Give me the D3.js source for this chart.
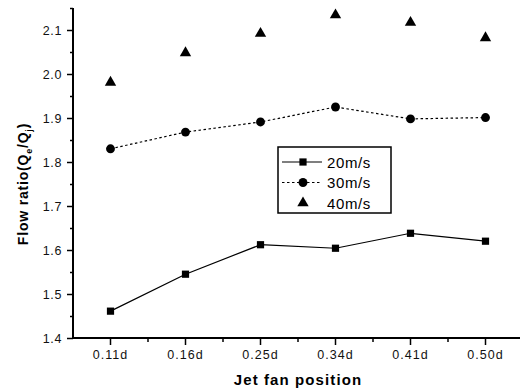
<!DOCTYPE html>
<html>
<head>
<meta charset="utf-8">
<script src="https://cdn.jsdelivr.net/npm/d3@7/dist/d3.min.js"></script>
<style>
  body { margin: 0; background: #fff; }
  svg { display: block; font-family: "Liberation Sans", Arial, sans-serif; }
</style>
</head>
<body>
<svg id="chart" width="520" height="392"></svg>
<script>
// Jet fan positions along the tunnel (fraction of diameter)
const positions = ["0.11d", "0.16d", "0.25d", "0.34d", "0.41d", "0.50d"];
// Flow ratio Qe/Qj for each inlet velocity
const v20 = [1.461, 1.545, 1.612, 1.604, 1.638, 1.620];
const v30 = [1.830, 1.868, 1.891, 1.925, 1.898, 1.901];
const v40 = [1.981, 2.048, 2.092, 2.134, 2.117, 2.082];
const seriesNames = ["20m/s", "30m/s", "40m/s"];
const yMajorTicks = [1.4, 1.5, 1.6, 1.7, 1.8, 1.9, 2.0, 2.1];

const svg = d3.select("#chart");
const plotLeft = 73, plotRight = 523, plotTop = 8, plotBottom = 338;

const x = d3.scaleBand().domain(positions).range([plotLeft, plotRight]).paddingInner(0).paddingOuter(0);
const y = d3.scaleLinear().domain([1.4, 2.15]).range([plotBottom, plotTop]);
const cx = d => x(d) + x.bandwidth() / 2;

// y axis: major ticks every 0.1, minor every 0.05
const yAxis = d3.axisLeft(y).tickValues(yMajorTicks).tickFormat(d3.format(".1f")).tickSize(6).tickPadding(5);
const yMinor = d3.range(1.45, 2.16, 0.1).map(v => +v.toFixed(2));
const gy = svg.append("g").attr("transform", `translate(${plotLeft},0)`).call(yAxis);
gy.select(".domain").attr("d", `M0,${plotBottom}V${plotTop}`).attr("stroke-width", 2);
gy.selectAll(".tick line").attr("stroke-width", 1.5);
gy.selectAll(".tick text").attr("font-size", 12.5).attr("fill", "#111").attr("letter-spacing", 0.6);
svg.append("g").attr("transform", `translate(${plotLeft},0)`)
  .call(d3.axisLeft(y).tickValues(yMinor).tickSize(3).tickFormat(""))
  .call(g => g.select(".domain").remove())
  .selectAll(".tick line").attr("stroke-width", 1.5);

// x axis: major ticks at categories, minor at band edges
const xAxis = d3.axisBottom(x).tickSize(7).tickPadding(5);
const gx = svg.append("g").attr("transform", `translate(0,${plotBottom})`).call(xAxis);
gx.select(".domain").attr("d", `M${plotLeft},0H${plotRight}`).attr("stroke-width", 2);
gx.selectAll(".tick line").attr("stroke-width", 1.5);
gx.selectAll(".tick text").attr("font-size", 12.5).attr("fill", "#111").attr("letter-spacing", 1);
const edges = positions.slice(1).map(p => x(p));
svg.append("g").selectAll("line").data(edges).join("line")
  .attr("x1", d => d).attr("x2", d => d)
  .attr("y1", plotBottom).attr("y2", plotBottom + 4)
  .attr("stroke", "#000").attr("stroke-width", 1.5);

// axis titles
svg.append("text")
  .attr("x", 298).attr("y", 385)
  .attr("text-anchor", "middle")
  .attr("font-size", 15).attr("font-weight", "bold").attr("letter-spacing", 1.1)
  .text("Jet fan position");

const yt = svg.append("text")
  .attr("transform", "translate(28,184) rotate(-90)")
  .attr("text-anchor", "middle")
  .attr("font-size", 14).attr("font-weight", "bold").attr("letter-spacing", 0.8);
yt.append("tspan").text("Flow ratio(Q");
yt.append("tspan").attr("font-size", 9).attr("dy", 4).text("e");
yt.append("tspan").attr("dy", -4).text("/Q");
yt.append("tspan").attr("font-size", 9).attr("dy", 4).text("j");
yt.append("tspan").attr("dy", -4).text(")");

// series
const line = d3.line().x((d, i) => cx(positions[i])).y(d => y(d));

svg.append("path").datum(v20).attr("d", line)
  .attr("fill", "none").attr("stroke", "#000").attr("stroke-width", 1.2);
svg.append("path").datum(v30).attr("d", line)
  .attr("fill", "none").attr("stroke", "#000").attr("stroke-width", 1.2).attr("stroke-dasharray", "2.5,2.5");

const sq = d3.symbol().type(d3.symbolSquare).size(52);
const ci = d3.symbol().type(d3.symbolCircle).size(62);
const tr = d3.symbol().type(d3.symbolTriangle).size(56);

svg.append("g").selectAll("path").data(v20).join("path")
  .attr("transform", (d, i) => `translate(${cx(positions[i])},${y(d)})`).attr("d", sq).attr("fill", "#000");
svg.append("g").selectAll("path").data(v30).join("path")
  .attr("transform", (d, i) => `translate(${cx(positions[i])},${y(d)})`).attr("d", ci).attr("fill", "#000");
svg.append("g").selectAll("path").data(v40).join("path")
  .attr("transform", (d, i) => `translate(${cx(positions[i])},${y(d)})`).attr("d", tr).attr("fill", "#000");

// legend
const lg = svg.append("g").attr("transform", "translate(278,147)");
lg.append("rect").attr("width", 113).attr("height", 66)
  .attr("fill", "#fff").attr("stroke", "#000").attr("stroke-width", 1.5);
const symbols = [sq, ci, tr];
const styles = [{dash: null, line: true}, {dash: "2.5,2.5", line: true}, {dash: null, line: false}];
seriesNames.forEach((name, i) => {
  const yy = 15 + i * 20.5;
  if (styles[i].line) {
    lg.append("line").attr("x1", 4).attr("x2", 44).attr("y1", yy).attr("y2", yy)
      .attr("stroke", "#000").attr("stroke-width", 1.2)
      .attr("stroke-dasharray", styles[i].dash);
  }
  lg.append("path").attr("transform", `translate(25,${yy})`).attr("d", symbols[i]).attr("fill", "#000");
  lg.append("text").attr("x", 49).attr("y", yy + 5.5)
    .attr("font-size", 15).attr("letter-spacing", 0.6).text(name);
});
</script>
</body>
</html>
